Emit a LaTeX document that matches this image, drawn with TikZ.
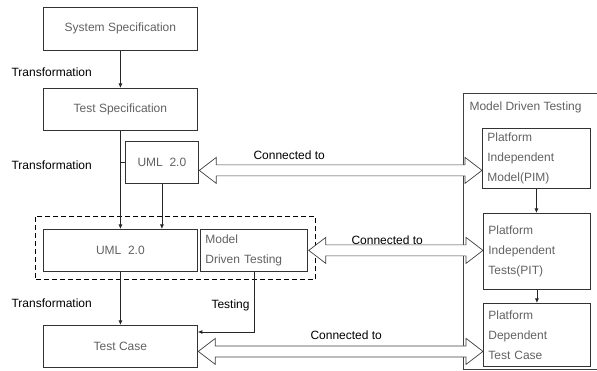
\documentclass[tikz,border=0pt]{standalone}
\usepackage{fontspec}
\setmainfont{Liberation Sans}
\usetikzlibrary{calc,arrows.meta}

% hollow double-headed block arrow between two points on one horizontal line
\newcommand\hollowlink[2]{%
  \draw[blockarr] let \p1=(#1), \p2=(#2) in
    (\x1,\y1) -- (\x1+17pt,\y1+13pt) -- (\x1+17pt,\y1+5.5pt)
    -- (\x2-17pt,\y2+5.5pt) -- (\x2-17pt,\y2+13pt) -- (\x2,\y2)
    -- (\x2-17pt,\y2-13pt) -- (\x2-17pt,\y2-5.5pt)
    -- (\x1+17pt,\y1-5.5pt) -- (\x1+17pt,\y1-13pt) -- cycle;}

\begin{document}
\begin{tikzpicture}[x=1pt,y=-1pt,
  font=\fontsize{12}{20}\selectfont,
  box/.style={draw=black!80,line width=0.8pt,anchor=north west,inner sep=0pt,
    text=black!62},
  lbox/.style={box,align=left,inner xsep=5pt,inner ysep=0pt},
  lbl/.style={text=black,anchor=west,font=\fontsize{12}{14}\selectfont},
  flow/.style={draw=black!85,line width=0.8pt,-{Latex[length=4.5pt,width=4pt]}},
  blockarr/.style={draw=black!75,line width=0.7pt,line join=miter,fill=white}]
\useasboundingbox (0,0) rectangle (597,371);

% left column
\node[box,minimum width=154,minimum height=43] (sys) at (43,7) {System Specification};
\node[box,minimum width=154,minimum height=42] (tspec) at (43,88) {Test Specification};
\node[box,minimum width=73,minimum height=42] (umlS) at (125,141) {UML\ \ 2.0};
\node[box,minimum width=154,minimum height=42] (umlB) at (43,229) {UML\ \ 2.0};
\node[lbox,text width=97,minimum height=42] (mdt) at (200,229) {Model\\Driven Testing};
\node[box,minimum width=154,minimum height=42] (tcase) at (43,325) {Test Case};

% dashed group around UML 2.0 and Model Driven Testing
\draw[line width=1pt,dash pattern=on 5pt off 3pt]
  ($(umlB.north west)+(-8,-12)$) rectangle ($(mdt.south east)+(8,8)$);

% Model Driven Testing frame on the right
\coordinate (frTR) at (597,93);
\coordinate (frTL) at (463,93);
\coordinate (frBL) at (463,369);
\coordinate (frBR) at (597,369);
\draw[draw=black!75,line width=0.8pt] (frTR) -- (frTL) -- (frBL) -- (frBR);
\node[anchor=west,text=black!62,font=\fontsize{12}{14}\selectfont] (frtitle) at (466,107)
  {Model Driven Testing};

\node[lbox,text width=98,minimum height=60] (pim) at (482,128)
  {Platform\\Independent\\Model(PIM)};
\node[lbox,text width=97,minimum height=76] (pit) at (483,213)
  {Platform\\Independent\\Tests(PIT)};
\node[lbox,text width=97,minimum height=63] (pdtc) at (483,303)
  {Platform\\Dependent\\Test Case};

% flow arrows
\draw[flow] (sys.south) -- (tspec.north);
\draw[flow] (tspec.south) -- (umlB.north);
\draw[draw=black!85,line width=0.8pt] (tspec.south |- umlS.west) -- (umlS.west);
\draw[flow] (umlS.south) -- (umlS.south |- umlB.north);
\draw[flow] (umlB.south) -- (tcase.north);
\coordinate (tstart) at ($(mdt.south west)+(54,0)$);
\coordinate (tend) at ($(tcase.north east)+(0,7)$);
\draw[flow] (tstart) |- (tend);
\draw[flow] (pim.south) -- (pim.south |- pit.north);
\draw[flow] (pit.south) -- (pit.south |- pdtc.north);

% labels
\node[lbl] (tr1) at (8,72) {Transformation};
\node[lbl] (tr2) at (8,165) {Transformation};
\node[lbl] (tr3) at (8,303) {Transformation};
\node[lbl] (tst) at (208,305) {Testing};

% hollow "connected to" links
\coordinate (c1L) at ($(umlS.east)+(0.5,8)$);
\coordinate (c1R) at (pim.west |- c1L);
\hollowlink{c1L}{c1R}
\coordinate (c2L) at ($(mdt.east)+(1,0)$);
\coordinate (c2R) at (pit.west |- c2L);
\hollowlink{c2L}{c2R}
\coordinate (c3L) at ($(tcase.east)+(0.5,5)$);
\coordinate (c3R) at (pdtc.west |- c3L);
\hollowlink{c3L}{c3R}

\node[lbl] (ct1) at (250,155) {Connected to};
\node[lbl] (ct2) at (348,240) {Connected to};
\node[lbl] (ct3) at (307,335) {Connected to};
\end{tikzpicture}
\end{document}
